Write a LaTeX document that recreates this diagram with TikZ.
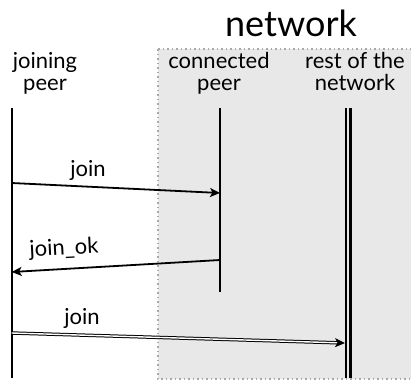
\documentclass[tikz,border=0pt]{standalone}
\usepackage{fontspec}
\setmainfont{Lato}
\usetikzlibrary{arrows.meta}
\definecolor{netgray}{HTML}{E8E8E8}
\definecolor{dotgray}{HTML}{A8A8A8}
\tikzset{
  peerlabel/.style={inner sep=0pt,align=center,font=\fontsize{22}{22}\selectfont},
  msglabel/.style={inner sep=0pt,font=\fontsize{22}{22}\selectfont},
  lifeline/.style={line width=2.3pt},
  msg/.style={line width=1.8pt,-{Stealth[length=10pt,width=9pt,inset=2.5pt]}},
}
\begin{document}
\begin{tikzpicture}[x=1pt,y=-1pt,line join=miter]
  \useasboundingbox (0,0) rectangle (411,383);
  \clip (0,0) rectangle (411,383);
  % network area
  \draw[dotgray,fill=netgray,line width=1.5pt,dash pattern=on 1.5pt off 3pt] (158,49) rectangle (425,379);
  \node[anchor=base,inner sep=0pt,font=\fontsize{36}{40}\selectfont] (title) at (291,36) {network};
  % participants
  \node[peerlabel,anchor=base] (jp) at (45,90) {joining\\peer};
  \node[peerlabel,anchor=base] (cp) at (219,90) {connected\\peer};
  \node[peerlabel,anchor=base] (rn) at (355,90) {rest of the\\network};
  % lifelines
  \coordinate (jp-top) at (11.7,108);
  \coordinate (jp-bot) at (11.7,378);
  \coordinate (cp-top) at (220,108);
  \coordinate (cp-bot) at (220,292);
  \coordinate (rn-top) at (348.3,108);
  \coordinate (rn-bot) at (348.3,378);
  \draw[lifeline] (jp-top) -- (jp-bot);
  \draw[lifeline] (cp-top) -- (cp-bot);
  \draw[line width=2.2pt,double=netgray,double distance=2pt] (rn-top) -- (rn-bot);
  % messages
  \coordinate (m1a) at (11.7,183);
  \coordinate (m1b) at (220,193);
  \coordinate (m2a) at (220,260);
  \coordinate (m2b) at (11.7,272);
  \coordinate (m3a) at (11.7,333);
  \coordinate (m3b) at (345,343);
  \draw[msg] (m1a) -- (m1b);
  \node[msglabel] (l1) at (88,170) {join};
  \draw[msg] (m2a) -- (m2b);
  \node[msglabel,rotate=3] (l2) at (64,249) {join\_ok};
  \draw[line width=1pt,double,double distance=1.4pt,-{Stealth[length=10pt,width=9pt,inset=2.5pt]}] (m3a) -- (m3b);
  \node[msglabel] (l3) at (82,318) {join};
\end{tikzpicture}
\end{document}
